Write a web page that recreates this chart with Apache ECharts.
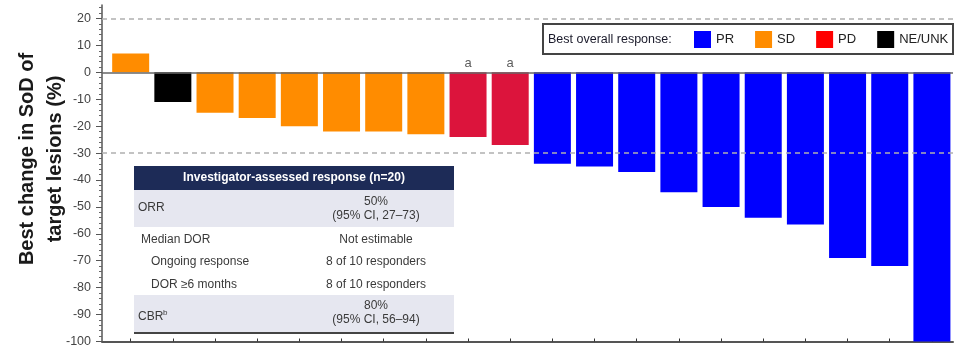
<!DOCTYPE html>
<html>
<head>
<meta charset="utf-8">
<script src="https://cdn.jsdelivr.net/npm/echarts@6/dist/echarts.min.js"></script>
<style>
  html, body { margin: 0; padding: 0; background: #fff; }
  #chart { width: 955px; height: 348px; }
</style>
</head>
<body>
<div id="chart"></div>
<script>
// Best percentage change in sum of diameters (SoD), one bar per patient
const changeValues = [7, -11, -15, -17, -20, -22, -22, -23, -24, -27,
  -34, -35, -37, -44.6, -50, -54, -56.5, -69, -72, -100];
const bestResponse = ['SD', 'NE/UNK', 'SD', 'SD', 'SD', 'SD', 'SD', 'SD', 'PD', 'PD',
  'PR', 'PR', 'PR', 'PR', 'PR', 'PR', 'PR', 'PR', 'PR', 'PR'];
const footnoteMarks = ['', '', '', '', '', '', '', '', 'a', 'a',
  '', '', '', '', '', '', '', '', '', ''];

// Response categories, legend order
const responseCategories = ['PR', 'SD', 'PD', 'NE/UNK'];
const barColors = ['#0000FF', '#FF8C00', '#DC143C', '#000000'];
const legendColors = ['#0000FF', '#FF8C00', '#FF0000', '#000000'];

// Axis ticks and reference lines
const yTickValues = [20, 10, 0, -10, -20, -30, -40, -50, -60, -70, -80, -90, -100];
const dashedRefLines = [20, -30];

// Summary table content
const tableTitle = 'Investigator-assessed response (n=20)';
const orrValue = ['50%', '(95% CI, 27\u201373)'];
const dorRows = [
  ['Median DOR', 'Not estimable'],
  ['Ongoing response', '8 of 10 responders'],
  ['DOR \u22656 months', '8 of 10 responders']
];
const cbrValue = ['80%', '(95% CI, 56\u201394)'];

const patientIndex = changeValues.map((_, i) => i);
const FONT = '"Liberation Sans", Arial, sans-serif';

const barSeries = responseCategories.map((cat, k) => ({
  name: cat,
  type: 'bar',
  z: 3,
  barWidth: 37,
  barGap: '-100%',
  itemStyle: { color: barColors[k] },
  data: changeValues
    .map((v, i) => (bestResponse[i] === cat ? [i, v] : null))
    .filter(d => d !== null),
  silent: true
}));

const refLineSeries = {
  name: 'ref',
  type: 'line',
  z: 1,
  data: [],
  silent: true,
  markLine: {
    silent: true,
    symbol: 'none',
    label: { show: false },
    data: [
      { yAxis: 0, lineStyle: { color: '#666', width: 1.5, type: 'solid' } }
    ].concat(dashedRefLines.map(v => ({
      yAxis: v, lineStyle: { color: '#b0b0b0', width: 1.5, type: [5, 4] }
    })))
  }
};

const footnoteSeries = {
  name: 'footnotes',
  type: 'scatter',
  z: 4,
  symbolSize: 0,
  silent: true,
  data: footnoteMarks
    .map((m, i) => (m ? { value: [i, 0], mark: m } : null))
    .filter(d => d !== null),
  label: {
    show: true,
    position: 'top',
    distance: 2,
    fontFamily: FONT,
    fontSize: 13,
    color: '#333',
    formatter: p => p.data.mark
  }
};

// Table geometry
const tX = 134, tW = 320, tCx = 376;
const tableGraphic = [
  { type: 'rect', shape: { x: tX, y: 166, width: tW, height: 24 }, style: { fill: '#1D2B57' } },
  { type: 'text', x: tX + tW / 2, y: 178, style: { text: tableTitle, fill: '#fff', font: 'bold 12px ' + FONT, align: 'center', verticalAlign: 'middle' } },
  { type: 'rect', shape: { x: tX, y: 190, width: tW, height: 37 }, style: { fill: '#E6E7F0' } },
  { type: 'text', x: 138, y: 208, style: { text: 'ORR', fill: '#3a3a3a', font: '12px ' + FONT, align: 'left', verticalAlign: 'middle' } },
  { type: 'text', x: tCx, y: 201.5, style: { text: orrValue[0], fill: '#3a3a3a', font: '12px ' + FONT, align: 'center', verticalAlign: 'middle' } },
  { type: 'text', x: tCx, y: 215.5, style: { text: orrValue[1], fill: '#3a3a3a', font: '12px ' + FONT, align: 'center', verticalAlign: 'middle' } },
  { type: 'text', x: 141, y: 239.5, style: { text: dorRows[0][0], fill: '#3a3a3a', font: '12px ' + FONT, align: 'left', verticalAlign: 'middle' } },
  { type: 'text', x: tCx, y: 239.5, style: { text: dorRows[0][1], fill: '#3a3a3a', font: '12px ' + FONT, align: 'center', verticalAlign: 'middle' } },
  { type: 'text', x: 151, y: 262, style: { text: dorRows[1][0], fill: '#3a3a3a', font: '12px ' + FONT, align: 'left', verticalAlign: 'middle' } },
  { type: 'text', x: tCx, y: 262, style: { text: dorRows[1][1], fill: '#3a3a3a', font: '12px ' + FONT, align: 'center', verticalAlign: 'middle' } },
  { type: 'text', x: 151, y: 284.5, style: { text: dorRows[2][0], fill: '#3a3a3a', font: '12px ' + FONT, align: 'left', verticalAlign: 'middle' } },
  { type: 'text', x: tCx, y: 284.5, style: { text: dorRows[2][1], fill: '#3a3a3a', font: '12px ' + FONT, align: 'center', verticalAlign: 'middle' } },
  { type: 'rect', shape: { x: tX, y: 295, width: tW, height: 37 }, style: { fill: '#E6E7F0' } },
  { type: 'text', x: 138, y: 317, style: { text: 'CBR', fill: '#3a3a3a', font: '12px ' + FONT, align: 'left', verticalAlign: 'middle' } },
  { type: 'text', x: 163, y: 313, style: { text: 'b', fill: '#3a3a3a', font: '8px ' + FONT, align: 'left', verticalAlign: 'middle' } },
  { type: 'text', x: tCx, y: 306, style: { text: cbrValue[0], fill: '#3a3a3a', font: '12px ' + FONT, align: 'center', verticalAlign: 'middle' } },
  { type: 'text', x: tCx, y: 320, style: { text: cbrValue[1], fill: '#3a3a3a', font: '12px ' + FONT, align: 'center', verticalAlign: 'middle' } },
  { type: 'line', shape: { x1: tX, y1: 333, x2: tX + tW, y2: 333 }, style: { stroke: '#444', lineWidth: 2 } }
];

const legendBoxGraphic = [
  { type: 'rect', z: 0, shape: { x: 543, y: 24, width: 410, height: 30 }, style: { fill: '#fff', stroke: '#444', lineWidth: 2 } },
  { type: 'text', z: 1, x: 548, y: 39.5, style: { text: 'Best overall response:', fill: '#1a1a2a', font: '12.5px ' + FONT, align: 'left', verticalAlign: 'middle' } }
];

const axisTitleGraphic = [{
  type: 'text',
  x: 41, y: 159,
  rotation: Math.PI / 2,
  style: {
    text: 'Best change in SoD of\ntarget lesions (%)',
    fill: '#1a1a1a',
    font: 'bold 20px ' + FONT,
    align: 'center',
    verticalAlign: 'middle',
    lineHeight: 28
  }
}];

const chart = echarts.init(document.getElementById('chart'), null, { renderer: 'canvas' });
chart.setOption({
  animation: false,
  backgroundColor: '#fff',
  grid: { left: 102, right: 2, top: 5, bottom: 6 },
  xAxis: {
    type: 'value',
    min: -0.68,
    max: 19.5,
    axisLine: { show: true, onZero: false, lineStyle: { color: '#555', width: 2 } },
    axisTick: { show: true, inside: true, length: 3, customValues: patientIndex, lineStyle: { color: '#333' } },
    axisLabel: { show: false },
    splitLine: { show: false }
  },
  yAxis: {
    type: 'value',
    min: -100,
    max: 25,
    interval: 10,
    axisLine: { show: true, onZero: false, lineStyle: { color: '#555', width: 1.5 } },
    axisTick: { show: true, length: 6, customValues: yTickValues, lineStyle: { color: '#555' } },
    minorTick: { show: true, splitNumber: 5, length: 3, lineStyle: { color: '#666' } },
    axisLabel: { customValues: yTickValues, margin: 11, fontFamily: FONT, fontSize: 12.5, color: '#444' },
    splitLine: { show: false }
  },
  legend: {
    left: 694,
    top: 31,
    width: 300,
    padding: 0,
    orient: 'horizontal',
    itemWidth: 17,
    itemHeight: 17,
    itemGap: 21,
    icon: 'rect',
    selectedMode: false,
    z: 10,
    textStyle: { fontFamily: FONT, fontSize: 13, color: '#222' },
    data: responseCategories.map((c, k) => ({ name: c, itemStyle: { color: legendColors[k] } }))
  },
  graphic: { elements: legendBoxGraphic.concat(tableGraphic, axisTitleGraphic) },
  series: [refLineSeries].concat(barSeries, [footnoteSeries])
});
</script>
</body>
</html>
